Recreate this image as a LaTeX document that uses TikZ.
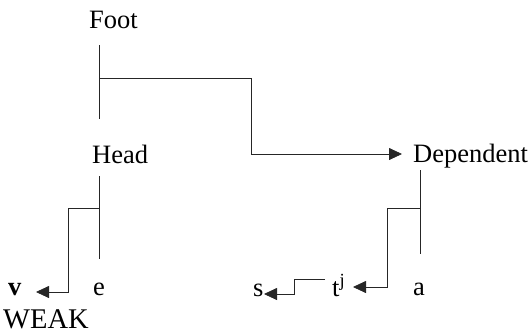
\documentclass[tikz,border=0pt]{standalone}
\usepackage{fontspec}
\setmainfont{Liberation Serif}
\usetikzlibrary{arrows.meta}
\begin{document}
\begin{tikzpicture}[x=1pt,y=-1pt,
  lbl/.style={anchor=base west,inner sep=0pt,font=\fontsize{26.5}{30}\selectfont},
  ln/.style={line width=0.8pt,draw=black!85},
  arr/.style={ln,-{Triangle[length=13pt,width=12pt]}}]
\useasboundingbox (0,0) rectangle (531,333);
\node[lbl] (foot) at (89,28) {Foot};
\node[lbl] (head) at (92,163) {Head};
\node[lbl] (dep) at (413,162) {Dependent};
\node[lbl] (v) at (8,295) {\textbf{v}};
\node[lbl] (e) at (93,295) {e};
\node[lbl,font=\fontsize{28.5}{32}\selectfont] (weak) at (3,328) {WEAK};
\node[lbl] (s) at (253,296) {s};
\node[lbl] (t) at (332,296) {t\textsuperscript{j}};
\node[lbl] (a) at (413,295) {a};
% coordinates
\coordinate (f1) at (99,45);
\coordinate (f2) at (99,119);
\coordinate (fb) at (99,78);
\coordinate (fc) at (251,154);
\coordinate (fd) at (402,154);
\coordinate (h1) at (99,176);
\coordinate (h2) at (99,259);
\coordinate (hb) at (99,208);
\coordinate (hc) at (68,292);
\coordinate (hd) at (36,292);
\coordinate (d1) at (420,170);
\coordinate (d2) at (420,254);
\coordinate (db) at (420,208);
\coordinate (dc) at (387,287);
\coordinate (dd) at (353,287);
\coordinate (t1) at (325,279);
\coordinate (t2) at (294,294);
\coordinate (td) at (264,294);
% lines
\draw[ln] (f1) -- (f2);
\draw[arr] (fb) -| (fc) -- (fd);
\draw[ln] (h1) -- (h2);
\draw[arr] (hb) -| (hc) -- (hd);
\draw[ln] (d1) -- (d2);
\draw[arr] (db) -| (dc) -- (dd);
\draw[arr] (t1) -| (t2) -- (td);
\end{tikzpicture}
\end{document}
